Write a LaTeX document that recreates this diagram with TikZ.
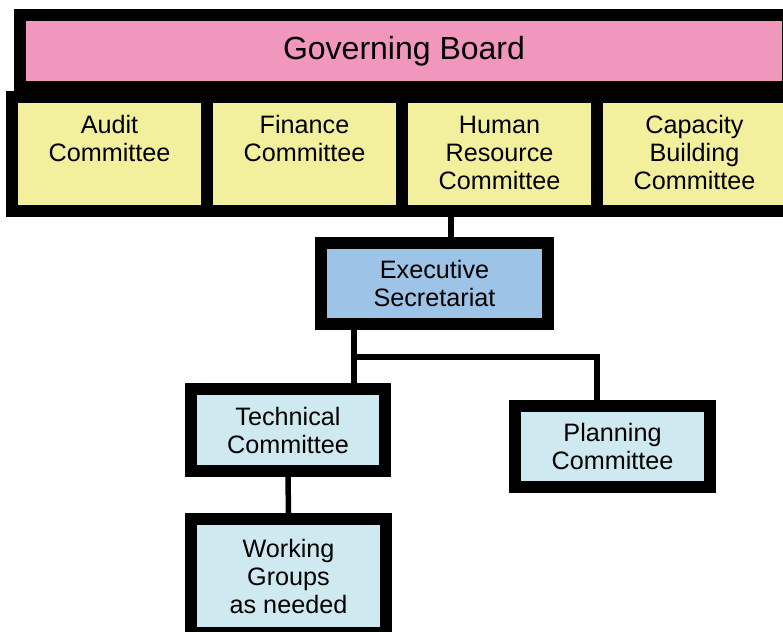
\documentclass[tikz,border=0pt]{standalone}
\usepackage{fontspec}
\setmainfont{Liberation Sans}
\usepackage{tikz}
\usetikzlibrary{positioning}
\definecolor{boardpink}{RGB}{241,151,190}
\definecolor{compyellow}{RGB}{243,240,157}
\definecolor{execblue}{RGB}{157,195,230}
\definecolor{groupcyan}{RGB}{206,234,240}
\tikzset{box/.style={draw=black,line width=12pt,inner sep=0pt,align=center,
    font=\fontsize{25.2}{28}\selectfont},
  combox/.style={box,fill=compyellow,minimum width=195pt,minimum height=114pt},
  comtext/.style={inner sep=0pt,align=center,anchor=north,
    font=\fontsize{25.2}{28}\selectfont},
  link/.style={line width=5.5pt}}

\begin{document}
\begin{tikzpicture}[x=1pt,y=-1pt]
  \useasboundingbox (0,0) rectangle (783,631);

  % committees of the board
  \node[combox] (audit) at (109.5,154) {};
  \node[combox] (finance) at (304.5,154) {};
  \node[combox] (hr) at (499.5,154) {};
  \node[combox] (capacity) at (694.5,154) {};
  \node[comtext] (audit-t) at (109.5,115.5) {Audit\\Committee};
  \node[comtext] (finance-t) at (304.5,115.5) {Finance\\Committee};
  \node[comtext] (hr-t) at (499.5,115.5) {Human\\Resource\\Committee};
  \node[comtext] (capacity-t) at (694.5,115.5) {Capacity\\Building\\Committee};

  \node[box,fill=boardpink,minimum width=768pt,minimum height=72pt,
    font=\fontsize{32}{36}\selectfont] (board) at (404,51)
    {\raisebox{2.5pt}{Governing Board}};

  \node[box,fill=execblue,minimum width=227pt,minimum height=81pt] (exec)
    at (434.5,283.5) {Executive\\Secretariat};
  \node[box,fill=groupcyan,minimum width=194pt,minimum height=82pt] (tech)
    at (288,430) {Technical\\Committee};
  \node[box,fill=groupcyan,minimum width=195pt,minimum height=81pt] (plan)
    at (612.5,446.5) {Planning\\Committee};
  \node[box,fill=groupcyan,minimum width=195pt,minimum height=114pt] (work)
    at (288.5,576) {Working\\Groups\\as needed};

  \coordinate (fork) at (354,357);
  \draw[link] ([xshift=16.5pt]exec.north) -- ([xshift=16.5pt]exec.north |- hr.south);
  \draw[link] (exec.south -| fork) -- (tech.north -| fork);
  \draw[link] (fork) -| ([xshift=-15.5pt]plan.north);
  \draw[link] (tech.south) -- (work.north);
\end{tikzpicture}
\end{document}
